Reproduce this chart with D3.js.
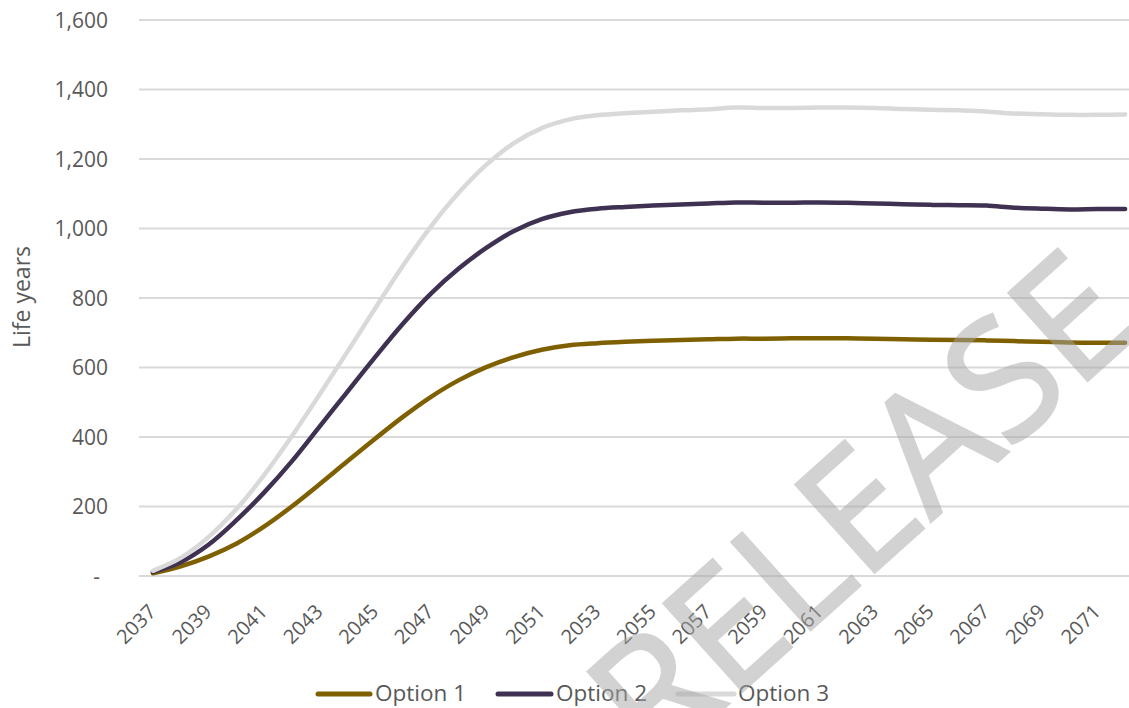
<!DOCTYPE html>
<html>
<head>
<meta charset="utf-8">
<script src="https://cdn.jsdelivr.net/npm/d3@7/dist/d3.min.js"></script>
<style>
  html, body { margin: 0; padding: 0; background: #ffffff; }
  svg { display: block; }
  text { font-family: "Open Sans", "Noto Sans", sans-serif; fill: #595959; }
</style>
</head>
<body>
<svg id="chart" width="1129" height="708"></svg>
<script>
// Categories (years) and the three scenario series, life years per year
const years = [2037, 2038, 2039, 2040, 2041, 2042, 2043, 2044, 2045, 2046, 2047, 2048,
  2049, 2050, 2051, 2052, 2053, 2054, 2055, 2056, 2057, 2058, 2059, 2060,
  2061, 2062, 2063, 2064, 2065, 2066, 2067, 2068, 2069, 2070, 2071, 2072];

const option1 = [8, 28, 56, 93, 142, 200, 264, 330, 395, 458, 515, 563,
  601, 630, 651, 664, 670, 674, 677, 679, 681, 683, 683, 684,
  684, 684, 683, 681, 680, 679, 678, 676, 674, 672, 671, 671];

const option2 = [12, 40, 90, 160, 240, 330, 430, 530, 630, 726, 812, 884,
  944, 993, 1027, 1047, 1057, 1062, 1066, 1069, 1072, 1075, 1074, 1074,
  1075, 1074, 1072, 1070, 1068, 1067, 1066, 1060, 1057, 1055, 1056, 1056];

const option3 = [15, 52, 112, 192, 290, 402, 522, 645, 770, 893, 1005, 1102,
  1183, 1246, 1289, 1314, 1326, 1332, 1336, 1340, 1343, 1348, 1347, 1347,
  1348, 1348, 1347, 1344, 1342, 1340, 1337, 1331, 1329, 1327, 1327, 1328];

const seriesNames = ["Option 1", "Option 2", "Option 3"];
const seriesColors = ["#7f6000", "#3f3151", "#d9d9d9"];

const yTicks = [0, 200, 400, 600, 800, 1000, 1200, 1400, 1600];
const xTickYears = [2037, 2039, 2041, 2043, 2045, 2047, 2049, 2051, 2053, 2055,
  2057, 2059, 2061, 2063, 2065, 2067, 2069, 2071];

const svg = d3.select("#chart");

const plotLeft = 139, plotRight = 1139, plotTop = 20, plotBottom = 576;

const x = d3.scalePoint()
  .domain(years)
  .range([plotLeft, plotRight])
  .padding(0.5);

const y = d3.scaleLinear()
  .domain([0, 1600])
  .range([plotBottom, plotTop]);

const fmt = v => v === 0 ? "-" : d3.format(",")(v);

// Horizontal gridlines
svg.append("g")
  .selectAll("line")
  .data(yTicks)
  .join("line")
  .attr("x1", plotLeft)
  .attr("x2", plotRight)
  .attr("y1", d => y(d))
  .attr("y2", d => y(d))
  .attr("stroke", "#d9d9d9")
  .attr("stroke-width", 2);

// Y axis labels
const yAxis = d3.axisLeft(y).tickValues(yTicks).tickFormat(fmt).tickSize(0).tickPadding(0);
const gy = svg.append("g")
  .attr("transform", `translate(108,0)`)
  .call(yAxis);
gy.select(".domain").remove();
gy.selectAll("text")
  .attr("font-size", 21)
  .attr("font-family", "Open Sans, Noto Sans, sans-serif")
  .attr("fill", "#595959")
  .attr("dy", "0.34em")
  .attr("dx", d => d === 0 ? -8 : 0);

// Y axis title
svg.append("text")
  .attr("transform", "translate(30,297) rotate(-90)")
  .attr("text-anchor", "middle")
  .attr("font-size", 23)
  .text("Life years");

// X axis labels, rotated
const xAxis = d3.axisBottom(x).tickValues(xTickYears).tickSize(0).tickPadding(0);
const gx = svg.append("g")
  .attr("transform", `translate(0,${plotBottom})`)
  .call(xAxis);
gx.select(".domain").remove();
gx.selectAll("text")
  .attr("font-size", 20)
  .attr("font-family", "Open Sans, Noto Sans, sans-serif")
  .attr("fill", "#595959")
  .attr("text-anchor", "end")
  .attr("dy", null)
  .attr("y", 0)
  .attr("transform", "translate(4,37) rotate(-45)");

// Series lines
const seriesData = [option1, option2, option3];
const line = d3.line()
  .x((d, i) => x(years[i]))
  .y(d => y(d))
  .curve(d3.curveCatmullRom.alpha(0.5));

svg.append("g")
  .selectAll("path")
  .data(seriesData)
  .join("path")
  .attr("d", d => line(d))
  .attr("fill", "none")
  .attr("stroke", (d, i) => seriesColors[i])
  .attr("stroke-width", 4.5)
  .attr("stroke-linecap", "round")
  .attr("stroke-linejoin", "round");

// Legend
const legendItems = [
  { x1: 318, x2: 370, tx: 375 },
  { x1: 498, x2: 551, tx: 556 },
  { x1: 678, x2: 734, tx: 738 }
];
const legend = svg.append("g");
legend.selectAll("line")
  .data(seriesNames)
  .join("line")
  .attr("x1", (d, i) => legendItems[i].x1)
  .attr("x2", (d, i) => legendItems[i].x2)
  .attr("y1", 694)
  .attr("y2", 694)
  .attr("stroke", (d, i) => seriesColors[i])
  .attr("stroke-width", 5)
  .attr("stroke-linecap", "round");
legend.selectAll("text")
  .data(seriesNames)
  .join("text")
  .attr("x", (d, i) => legendItems[i].tx)
  .attr("y", 701)
  .attr("font-size", 22.5)
  .text(d => d);

// Watermark
svg.append("text")
  .attr("transform", "translate(655,770) rotate(-42)")
  .attr("font-family", "Liberation Sans, Arial, sans-serif")
  .attr("font-size", 165)
  .style("fill", "#a6a6a6")
  .style("stroke", "#a6a6a6")
  .style("stroke-width", 3)
  .style("opacity", 0.5)
  .text("RELEASE");
</script>
</body>
</html>
